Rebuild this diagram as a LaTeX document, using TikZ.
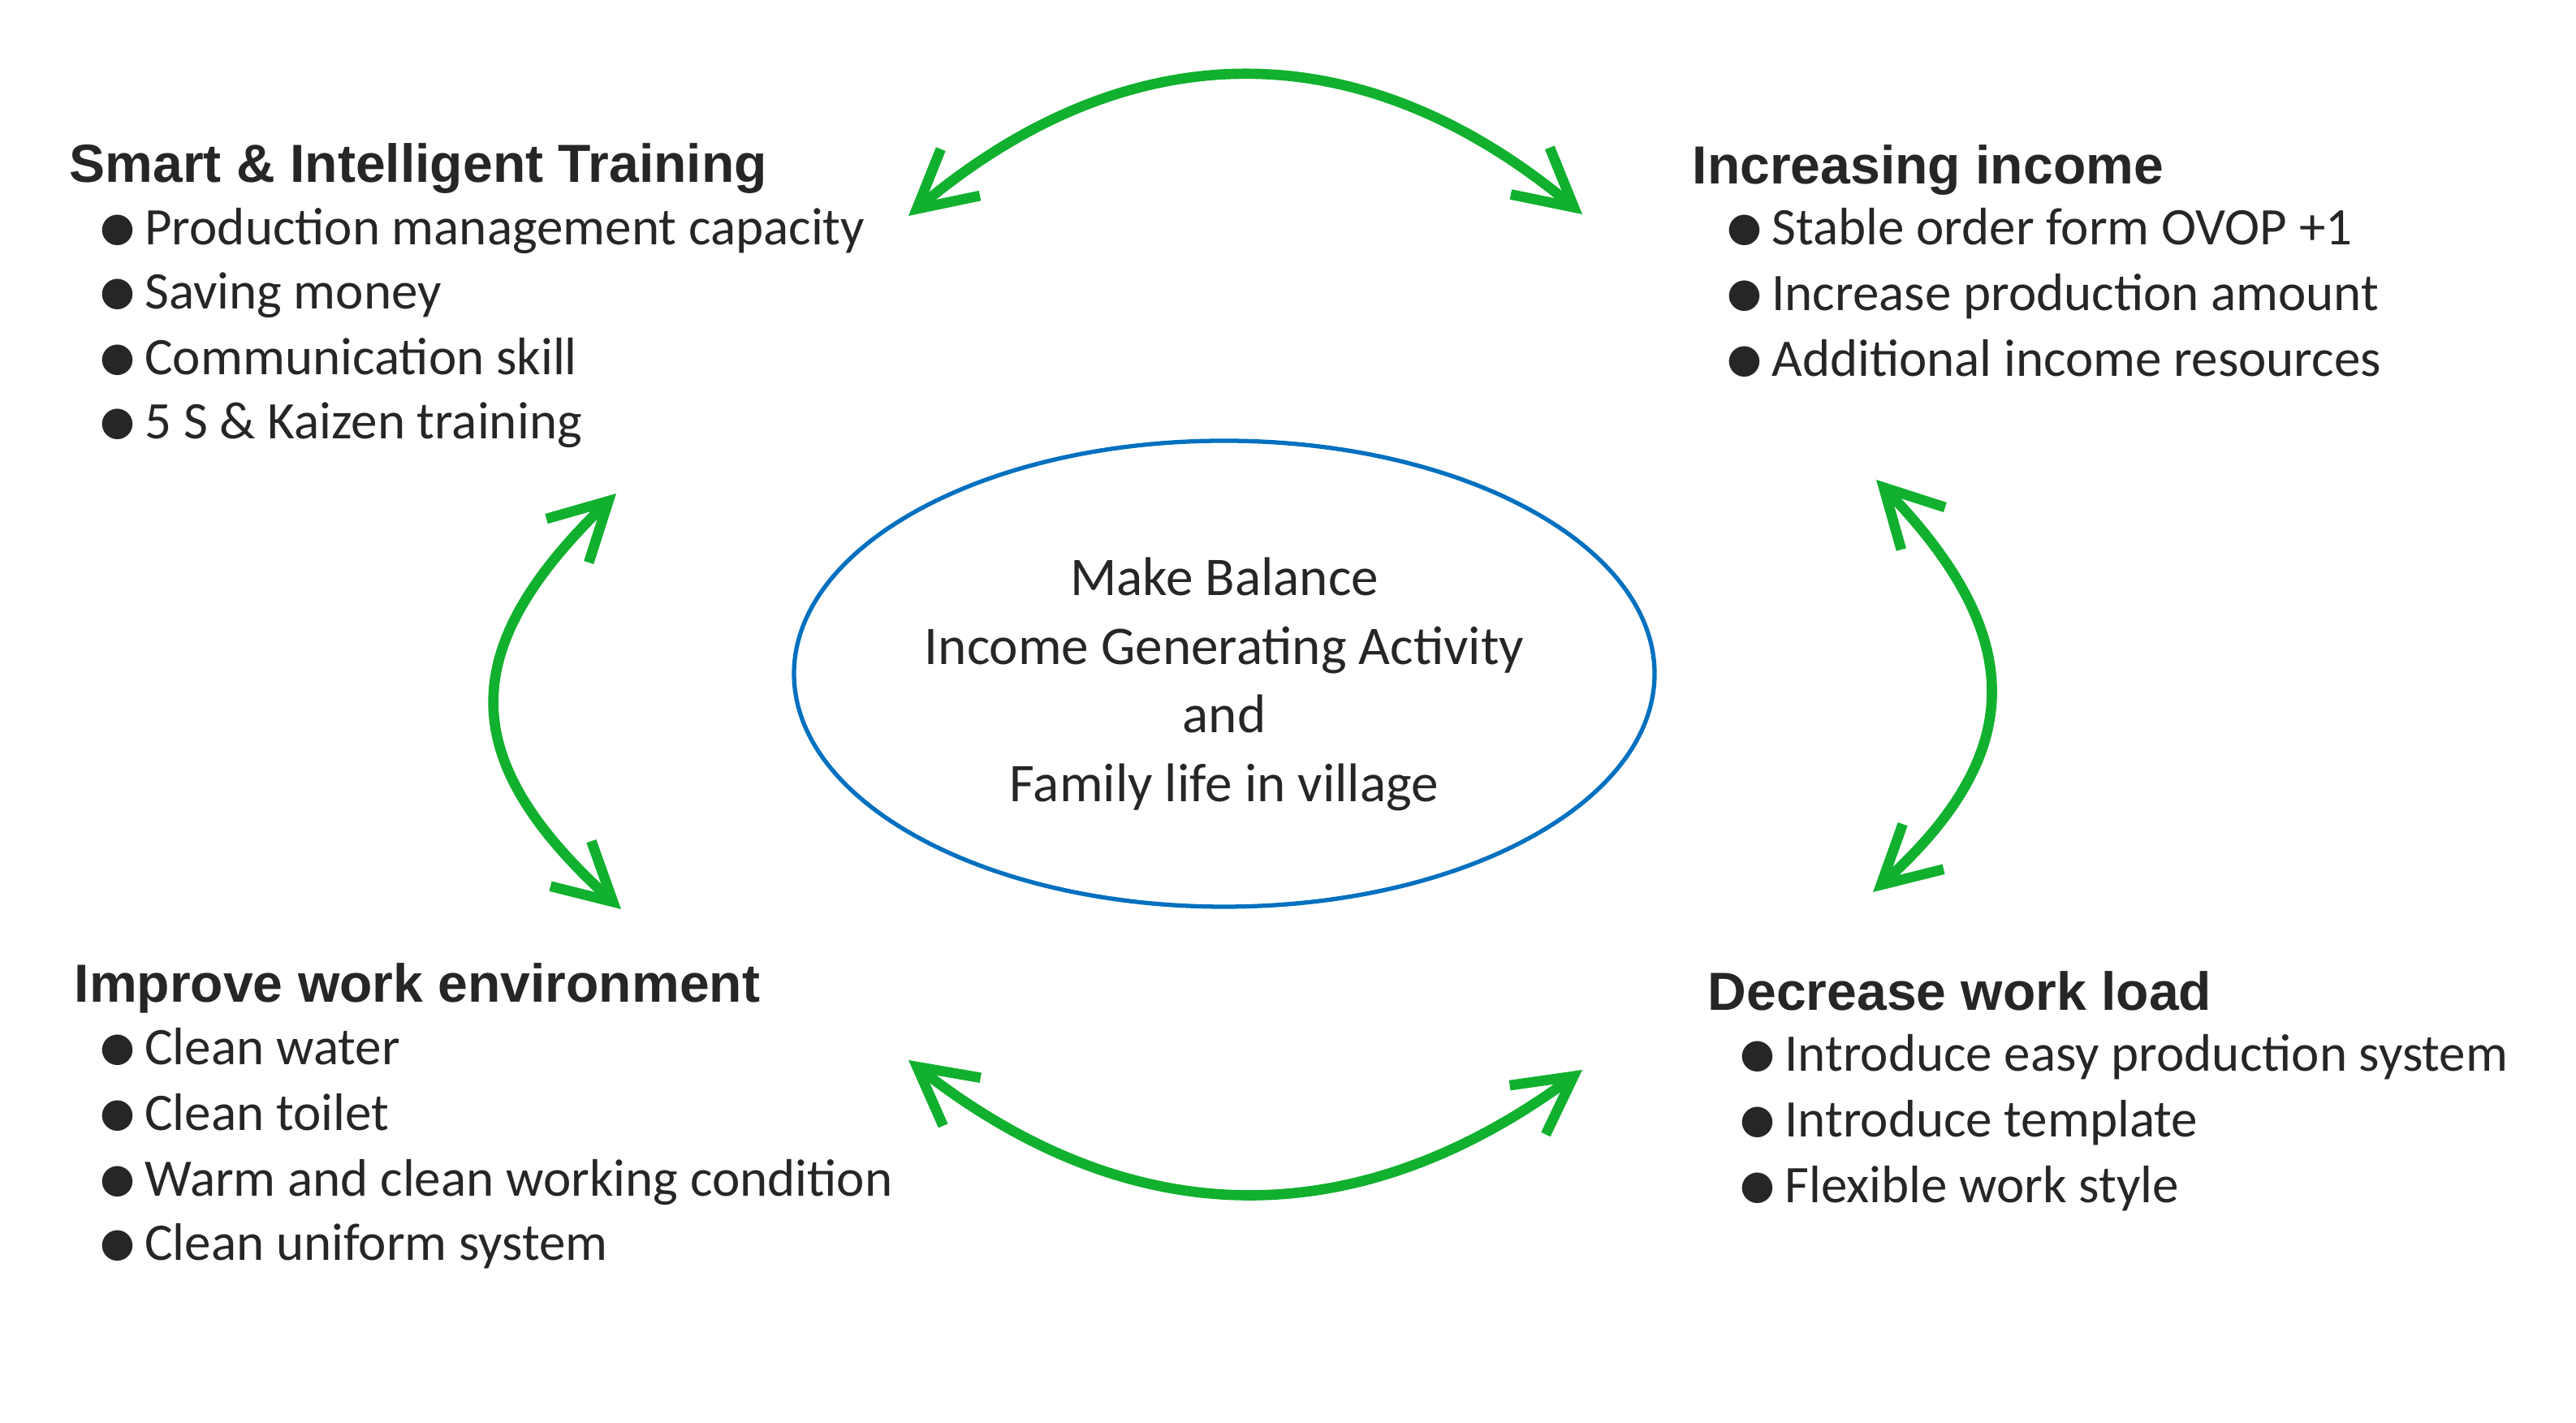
\documentclass[tikz,border=0pt]{standalone}
\usepackage{fontspec}
\setmainfont{Carlito}
\newfontfamily\headfont{Liberation Sans}
\newfontfamily\symfont{DejaVu Sans}
\usetikzlibrary{arrows.meta,shapes.geometric}

\definecolor{arrowgreen}{RGB}{17,176,46}
\definecolor{ringblue}{RGB}{0,112,192}
\definecolor{textgray}{RGB}{38,38,38}

\newcommand{\bul}{\raisebox{0.05cm}{\symfont\fontsize{14}{14}\selectfont ●}\hspace{0.18em}}

\tikzset{
  heading/.style={anchor=base west,inner sep=0,text=textgray,
    font=\headfont\bfseries\fontsize{18.8}{22}\selectfont},
  item/.style={anchor=base west,inner sep=0,text=textgray,
    font=\fontsize{18.5}{22}\selectfont},
  link/.style={arrowgreen,line width=3.6pt,
    {Straight Barb[length=7mm,width=7.5mm]}-{Straight Barb[length=7mm,width=7.5mm]}},
}

\begin{document}
\begin{tikzpicture}
  \useasboundingbox (0,0) rectangle (31.73,17.53);

  % centre
  \node[ellipse,draw=ringblue,line width=1.5pt,minimum width=10.6cm,minimum height=5.74cm,
        inner sep=0] (ring) at (15.08,9.23) {};
  \node[align=center,text=textgray,font=\fontsize{19.1}{24}\selectfont]
        (balance) at (15.08,9.10) {Make Balance\\Income Generating Activity\\and\\Family life in village};

  % top left
  \node[heading] (train) at (0.85,15.28) {Smart \& Intelligent Training};
  \node[item] (train1) at (1.23,14.51) {\bul Production management capacity};
  \node[item] (train2) at (1.23,13.72) {\bul Saving money};
  \node[item] (train3) at (1.23,12.91) {\bul Communication skill};
  \node[item] (train4) at (1.23,12.12) {\bul 5 S \& Kaizen training};

  % top right
  \node[heading] (income) at (20.84,15.26) {Increasing income};
  \node[item] (income1) at (21.27,14.51) {\bul Stable order form OVOP +1};
  \node[item] (income2) at (21.27,13.70) {\bul Increase production amount};
  \node[item] (income3) at (21.27,12.89) {\bul Additional income resources};

  % bottom left
  \node[heading] (env) at (0.91,5.18) {Improve work environment};
  \node[item] (env1) at (1.23,4.41) {\bul Clean water};
  \node[item] (env2) at (1.23,3.60) {\bul Clean toilet};
  \node[item] (env3) at (1.23,2.79) {\bul Warm and clean working condition};
  \node[item] (env4) at (1.23,2.00) {\bul Clean uniform system};

  % bottom right
  \node[heading] (load) at (21.03,5.08) {Decrease work load};
  \node[item] (load1) at (21.43,4.33) {\bul Introduce easy production system};
  \node[item] (load2) at (21.43,3.52) {\bul Introduce template};
  \node[item] (load3) at (21.43,2.71) {\bul Flexible work style};

  % arrow ends
  \coordinate (topL) at (11.19,14.87);
  \coordinate (topR) at (19.49,14.89);
  \coordinate (botL) at (11.19,4.47);
  \coordinate (botR) at (19.49,4.35);
  \coordinate (leftT) at (7.59,11.45);
  \coordinate (leftB) at (7.65,6.33);
  \coordinate (rightT) at (23.11,11.62);
  \coordinate (rightB) at (23.07,6.54);

  \draw[link] (topL) .. controls (13.92,17.16) and (16.76,17.16) .. (topR);
  \draw[link] (botL) .. controls (13.96,2.31) and (16.71,2.31) .. (botR);
  \draw[link] (leftT) .. controls (5.61,9.53) and (5.61,8.18) .. (leftB);
  \draw[link] (rightT) .. controls (24.97,9.69) and (24.97,8.26) .. (rightB);
\end{tikzpicture}
\end{document}
